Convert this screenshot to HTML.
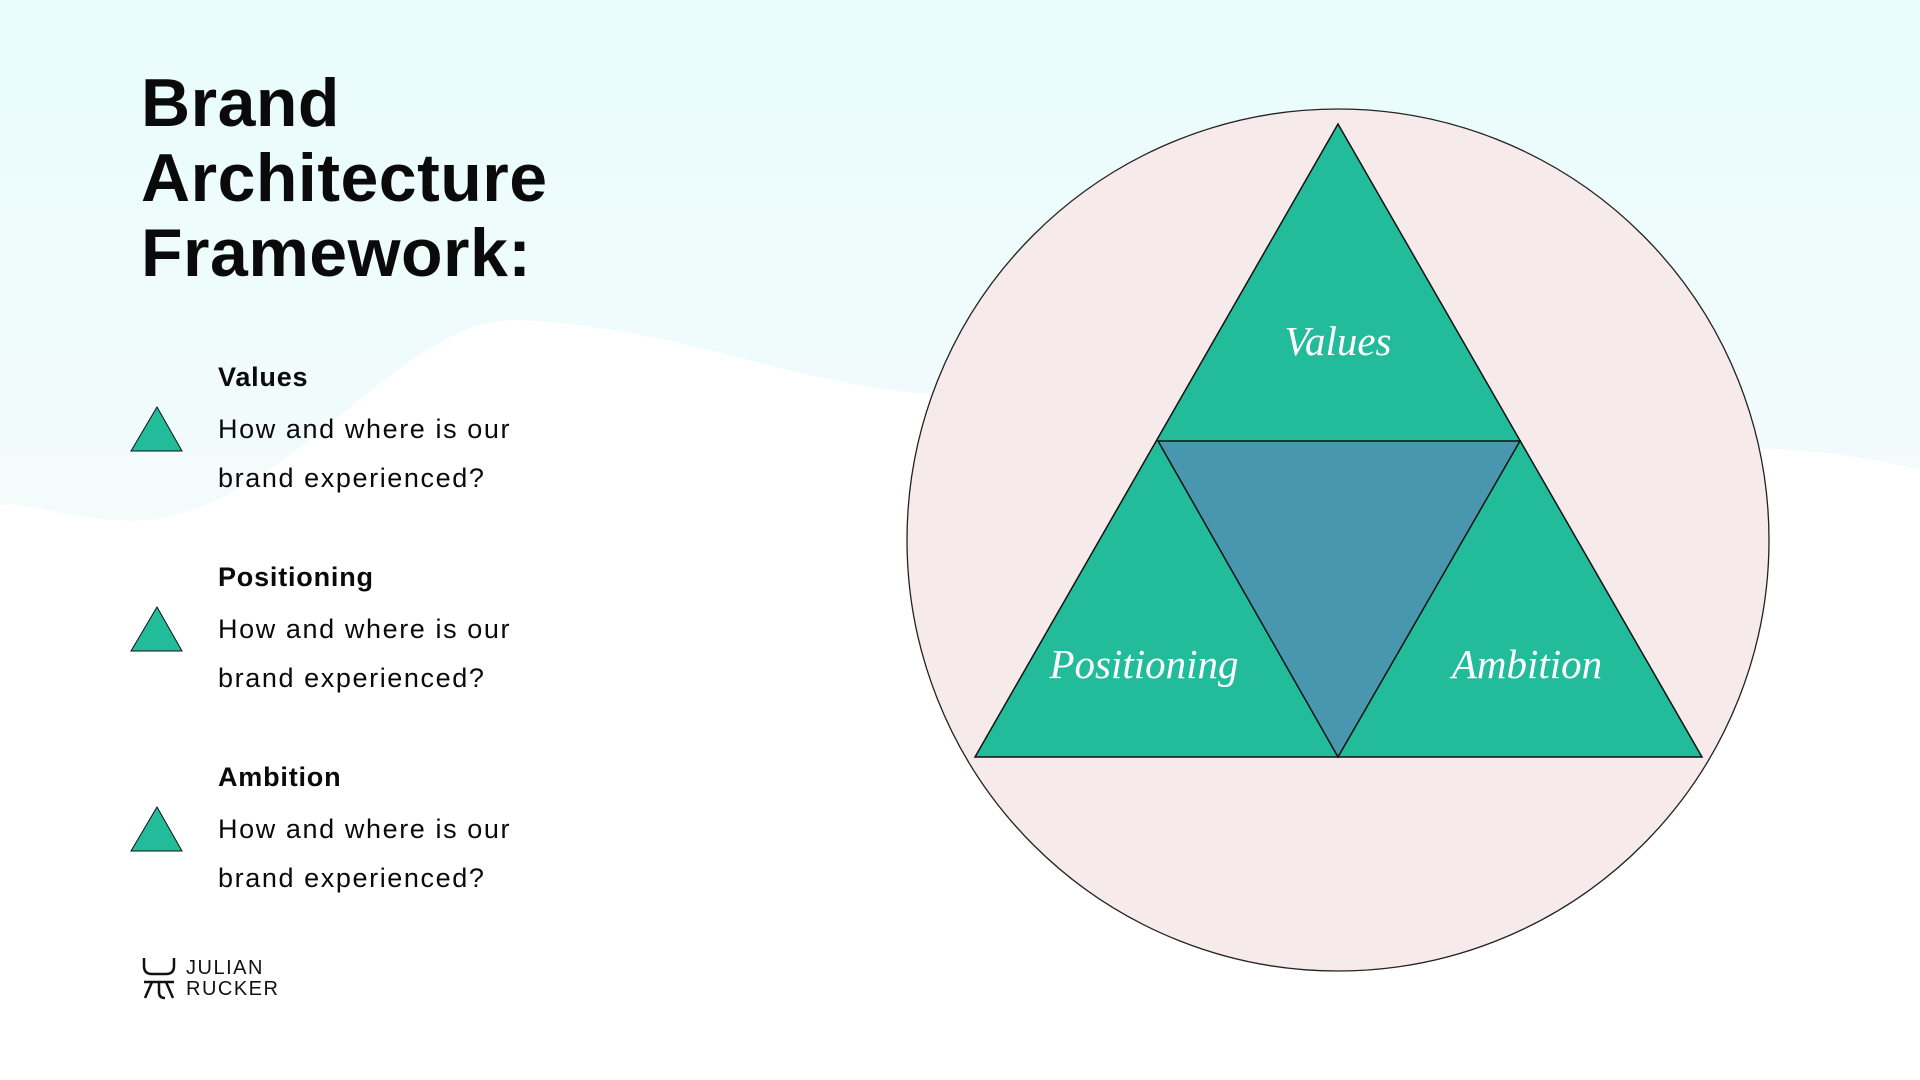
<!DOCTYPE html>
<html><head><meta charset="utf-8"><style>
html,body{margin:0;padding:0;width:1920px;height:1080px;overflow:hidden;background:#fff;font-family:"Liberation Sans",sans-serif;color:#0a0a0a}
.t{position:absolute;left:141px;top:66px;font-size:68px;font-weight:bold;line-height:75px;letter-spacing:0.5px;margin:0}
.h{position:absolute;left:218px;font-size:27px;font-weight:bold;letter-spacing:0.8px}
.d{position:absolute;left:218px;font-size:27px;line-height:49px;letter-spacing:1.6px}
</style></head><body>
<svg width="1920" height="1080" style="position:absolute;left:0;top:0">
<defs><linearGradient id="g" x1="0" y1="0" x2="0" y2="1"><stop offset="0" stop-color="#e9fcfd"/><stop offset="1" stop-color="#f4fbfb"/></linearGradient></defs>
<path d="M0 0 H1920 V470 C1800 440 1700 450 1600 440 C1400 420 1100 400 950 395 C800 390 700 330 520 320 C400 315 300 500 150 520 C80 525 30 500 0 505 Z" fill="url(#g)"/>
<circle cx="1338" cy="540" r="431" fill="#f6eaea" stroke="#222" stroke-width="1.3"/>
<polygon points="1338,124 1702,757 975,757" fill="#22bc9b" stroke="#111" stroke-width="1.5"/>
<polygon points="1158,441 1520,441 1338,757" fill="#4997ae" stroke="#111" stroke-width="1.5"/>
<g font-family="Liberation Serif,serif" font-style="italic" font-size="41" fill="#fff" text-anchor="middle">
<text x="1338" y="355">Values</text>
<text x="1144" y="678">Positioning</text>
<text x="1527" y="678">Ambition</text>
</g>
<g fill="#22bc9b" stroke="#111" stroke-width="1">
<polygon points="157,407 182,451 131,451"/>
<polygon points="157,607 182,651 131,651"/>
<polygon points="157,807 182,851 131,851"/>
</g>
<g fill="none" stroke="#111" stroke-width="2.5">
<path d="M144 958 V966 Q144 974 152 974 H166 Q174 974 174 966 V958"/>
<path d="M144 982 H174 M152 982 L145 998 M166 982 L173 998 M159 982 V992 Q159 998 165 998"/>
</g>
<text x="186" y="974" font-size="20" font-family="Liberation Sans,sans-serif" fill="#111" letter-spacing="1.5">JULIAN</text>
<text x="186" y="995" font-size="20" font-family="Liberation Sans,sans-serif" fill="#111" letter-spacing="1.5">RUCKER</text>
</svg>
<div class="t">Brand<br>Architecture<br>Framework:</div>
<div class="h" style="top:362px">Values</div>
<div class="d" style="top:405px">How and where is our<br>brand experienced?</div>
<div class="h" style="top:562px">Positioning</div>
<div class="d" style="top:605px">How and where is our<br>brand experienced?</div>
<div class="h" style="top:762px">Ambition</div>
<div class="d" style="top:805px">How and where is our<br>brand experienced?</div>
</body></html>
